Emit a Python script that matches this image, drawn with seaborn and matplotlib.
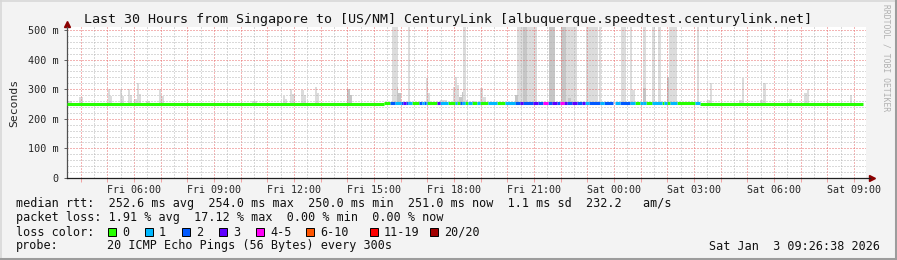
import numpy as np
import pandas as pd
import matplotlib
matplotlib.use("Agg")
import matplotlib.pyplot as plt
import seaborn as sns
from matplotlib.patches import Rectangle
from matplotlib.lines import Line2D
from matplotlib.ticker import FixedLocator, FixedFormatter

# ---------------- data ----------------
title = "Last 30 Hours from Singapore to [US/NM] CenturyLink [albuquerque.speedtest.centurylink.net]"
t_start = 3.49    # hours since Fri 00:00
t_end = 33.34

loss_labels = ["0", "1", "2", "3", "4-5", "6-10", "11-19", "20/20"]
loss_colors = ["#26ff00", "#00b8ff", "#0059ff", "#5e00ff", "#ff00f7", "#ff5500", "#ff0000", "#a10000"]

# median rtt segments (start hour, loss bucket index, median ms); -1 = no data
seg_start = [3.49, 15.375, 15.6, 15.79, 16.0, 16.1, 16.2, 16.29, 16.41, 16.69, 16.79, 16.875,
             16.94, 17.0, 17.35, 17.475, 17.79, 18.04, 18.12, 18.225, 18.29, 18.41, 18.54, 18.66,
             18.85, 18.975, 19.29, 19.61, 19.91, 20.29, 20.475, 20.6, 20.97, 21.16, 21.35, 21.54,
             21.66, 21.85, 21.975, 22.125, 22.25, 22.41, 22.6, 22.79, 22.91, 23.07, 23.475, 23.625,
             23.97, 24.04, 24.225, 24.6, 24.79, 24.975, 25.1, 25.22, 25.41, 25.79, 25.875, 25.975,
             26.1, 26.35, 27.04, 27.225]
seg_loss = [0, 0, 2, 1, 2, 3, 2, 1, 0, 2, 1, 2,
            1, 0, 3, 1, 0, 1, 0, 2, 1, 0, 1, 0,
            1, 0, 1, 0, 1, 2, 3, 2, 3, 2, 4, 2,
            3, 2, 4, 3, 2, 3, 2, 3, 1, 2, 1, 2,
            -1, 1, 2, 1, 0, 1, 1, 0, 1, 0, 1, 0,
            1, 0, 1, 0]
seg_median = [251, 254, 254, 254, 254, 254, 254, 254, 254, 254, 254, 254,
              254, 254, 254, 254, 254, 254, 254, 254, 254, 254, 254, 254,
              254, 254, 254, 254, 254, 255, 255, 255, 255, 255, 255, 255,
              255, 255, 255, 255, 255, 255, 255, 255, 255, 255, 255, 255,
              255, 254, 254, 254, 254, 254, 254, 254, 254, 254, 254, 254,
              254, 254, 254, 251]

# smoke (ping spread) columns: start hour, end hour, max rtt (ms), shade index
smoke_start = [3.49, 3.94, 5.025, 5.1, 5.475, 5.55, 5.775, 5.85, 6.0, 6.11, 6.19, 6.45, 6.94, 7.01,
               10.425, 11.59, 11.66, 11.85, 11.925, 12.26, 12.375, 12.79, 12.86, 13.99, 14.1,
               15.66, 15.85, 15.91, 16.26, 16.95, 17.01, 17.475, 17.95, 18.04, 18.11, 18.19, 18.29,
               18.34, 18.45, 18.66, 18.975, 19.1, 20.29, 20.35, 20.58, 21.56, 22.0, 22.2, 22.29,
               22.95, 23.45, 24.26, 24.59, 24.64, 25.1, 25.1, 25.41, 25.66, 25.99, 26.05, 27.1,
               27.5, 27.6, 28.7, 28.8, 29.475, 29.59, 30.56, 31.125, 31.225, 32.85]
smoke_end = [3.675, 4.09, 5.1, 5.175, 5.55, 5.625, 5.85, 5.925, 6.11, 6.19, 6.26, 6.6, 7.01, 7.125,
             10.61, 11.66, 11.74, 11.925, 12.04, 12.375, 12.45, 12.86, 12.94, 14.1, 14.175,
             15.91, 15.91, 16.0, 16.35, 17.01, 17.1, 17.725, 18.04, 18.11, 18.19, 18.29, 18.34,
             18.45, 18.525, 18.79, 19.1, 19.2, 20.39, 21.1, 20.73, 21.79, 22.2, 22.6, 22.39,
             23.39, 23.51, 24.44, 24.69, 24.79, 25.19, 25.2, 25.54, 25.76, 26.05, 26.35, 27.19,
             27.6, 27.66, 28.8, 28.875, 29.59, 29.69, 30.66, 31.225, 31.32, 32.94]
smoke_top = [261, 272, 300, 277, 300, 277, 300, 280, 266, 320, 284, 261, 300, 277,
             261, 277, 268, 300, 284, 297, 280, 308, 288, 300, 280,
             520, 308, 288, 520, 337, 287, 263, 308, 342, 314, 275, 291,
             520, 262, 260, 303, 275, 280, 520, 520, 520, 520, 520, 270,
             520, 520, 520, 520, 296, 520, 305, 520, 520, 342, 520, 520,
             263, 322, 263, 339, 263, 322, 267, 286, 300, 280]
smoke_shade = [0, 0, 0, 0, 0, 0, 0, 0, 0, 0, 0, 0, 0, 0,
               0, 0, 0, 0, 0, 0, 0, 0, 0, 1, 1,
               0, 1, 1, 0, 0, 0, 0, 0, 0, 0, 1, 1,
               0, 0, 0, 0, 0, 1, 0, 1, 1, 1, 0, 1,
               0, 0, 0, 0, 0, 0, 1, 0, 0, 1, 0, 0,
               0, 0, 0, 0, 0, 0, 0, 0, 0, 0]
shade_colors = ["#dcdcdc", "#c6c6c6"]

xtick_hours = [6, 9, 12, 15, 18, 21, 24, 27, 30, 33]
xtick_labels = ["Fri 06:00", "Fri 09:00", "Fri 12:00", "Fri 15:00", "Fri 18:00",
                "Fri 21:00", "Sat 00:00", "Sat 03:00", "Sat 06:00", "Sat 09:00"]
ytick_values = [0, 100, 200, 300, 400, 500]
ytick_labels = ["0", "100 m", "200 m", "300 m", "400 m", "500 m"]

legend_rtt = "median rtt:  252.6 ms avg  254.0 ms max  250.0 ms min  251.0 ms now  1.1 ms sd  232.2   am/s"
legend_loss = "packet loss: 1.91 % avg  17.12 % max  0.00 % min  0.00 % now"
probe_text = "20 ICMP Echo Pings (56 Bytes) every 300s"
stamp_text = "Sat Jan  3 09:26:38 2026"

# ---------------- style ----------------
sns.set_style("white")
MONO = ["DejaVu Sans Mono"]
plt.rcParams["font.family"] = MONO
BG = "#f3f3f3"

W, H = 897, 260
fig = plt.figure(figsize=(W / 100, H / 100), dpi=100, facecolor=BG)

def fx(px):
    return px / W

def fy(py):
    return 1 - py / H

ax = fig.add_axes([fx(67), fy(178), fx(866) - fx(67), fy(27) - fy(178)])
ax.set_facecolor("white")
ax.set_xlim(t_start, t_start + 799 * 0.0375)
ax.set_ylim(0, 510)

# smoke columns: light shade first, darker on top
smoke = pd.DataFrame({"start": smoke_start, "end": smoke_end, "top": smoke_top, "shade": smoke_shade})
for s in [0, 1]:
    d = smoke[smoke["shade"] == s]
    ax.bar(d["start"], d["top"] - 246, width=d["end"] - d["start"], bottom=246, align="edge",
           color=shade_colors[s], linewidth=0, zorder=1)

# median line coloured by loss
seg_end = seg_start[1:] + [t_end]
rows = []
for i, (a, b, l, m) in enumerate(zip(seg_start, seg_end, seg_loss, seg_median)):
    if l < 0:
        continue
    rows.append({"t": a, "rtt": m, "loss": loss_labels[l], "seg": i})
    rows.append({"t": b, "rtt": m, "loss": loss_labels[l], "seg": i})
med = pd.DataFrame(rows)
sns.lineplot(data=med, x="t", y="rtt", hue="loss", units="seg", estimator=None, sort=False,
             palette=dict(zip(loss_labels, loss_colors)), legend=False, linewidth=2.2,
             solid_capstyle="butt", ax=ax, zorder=3)
ax.set_xlabel("")
ax.set_ylabel("Seconds", fontsize=8.2, labelpad=6)

# ticks & grid
hours = list(range(4, 34))
ax.xaxis.set_major_locator(FixedLocator(hours))
ax.xaxis.set_major_formatter(FixedFormatter([xtick_labels[xtick_hours.index(h)] if h in xtick_hours else "" for h in hours]))
ax.xaxis.set_minor_locator(FixedLocator([h + 0.5 for h in range(3, 34)]))
ax.yaxis.set_major_locator(FixedLocator(ytick_values))
ax.yaxis.set_major_formatter(FixedFormatter(ytick_labels))
ax.yaxis.set_minor_locator(FixedLocator([v for v in range(20, 510, 20) if v % 100]))
ax.set_axisbelow("line")
ax.grid(which="major", color="#e86a6a", linestyle=(0, (1, 2)), linewidth=0.72)
ax.grid(which="minor", color="#b4b4b4", linestyle=(0, (1, 2)), linewidth=0.72)
ax.tick_params(axis="x", which="major", length=3, width=0.7, color="#f0a0a0",
               labelsize=7.2, pad=2, direction="out", bottom=True)
ax.tick_params(axis="x", which="minor", length=0)
ax.tick_params(axis="y", which="major", length=2, width=0.7, color="#606060",
               labelsize=7.3, pad=4, direction="out", left=True)
ax.tick_params(axis="y", which="minor", length=0)

for sp in ["top", "right"]:
    ax.spines[sp].set_visible(False)
ax.spines["left"].set_color("#505050")
ax.spines["bottom"].set_color("#202020")
ax.spines["left"].set_linewidth(0.9)
ax.spines["bottom"].set_linewidth(0.9)
ax.spines["bottom"].set_bounds(t_start, t_start + 803 * 0.0375)
ax.plot([0], [1.02], marker="^", markersize=5, color="#8b0000", transform=ax.transAxes, clip_on=False)
ax.plot([1.008], [0], marker=">", markersize=5, color="#8b0000", transform=ax.transAxes, clip_on=False)
ax.yaxis.label.set_position((0, (178 - 103) / 151))

# ---------------- texts ----------------
fig.text(fx(448), fy(19), title, ha="center", va="center", fontsize=9.65, color="#111111")
fig.text(fx(886), fy(58), "RRDTOOL / TOBI OETIKER", rotation=270, ha="center", va="center",
         fontsize=5.8, color="#b0b0b0")

LEG = 8.5
fig.text(fx(16), fy(204), legend_rtt, ha="left", va="center", fontsize=LEG, color="#111111")
fig.text(fx(16), fy(218), legend_loss, ha="left", va="center", fontsize=LEG, color="#111111")
fig.text(fx(16), fy(232), "loss color:", ha="left", va="center", fontsize=LEG, color="#111111")
fig.text(fx(16), fy(246), "probe:", ha="left", va="center", fontsize=LEG, color="#111111")
fig.text(fx(107), fy(246), probe_text, ha="left", va="center", fontsize=LEG, color="#111111")
fig.text(fx(880), fy(246), stamp_text, ha="right", va="center", fontsize=LEG, color="#111111")

swatch_x = [108, 145, 182, 219, 256, 306, 370, 430]
for sx, lab, col in zip(swatch_x, loss_labels, loss_colors):
    fig.add_artist(Rectangle((fx(sx), fy(236)), 8 / W, 8 / H, transform=fig.transFigure,
                             facecolor=col, edgecolor="black", linewidth=0.7))
    fig.text(fx(sx + 14), fy(232), lab, ha="left", va="center", fontsize=LEG, color="#111111")

# frame around image
fig.add_artist(Line2D([0, 1], [fy(0.5), fy(0.5)], transform=fig.transFigure, color="#d8d8d8", linewidth=1.2))
fig.add_artist(Line2D([fx(0.5), fx(0.5)], [0, 1], transform=fig.transFigure, color="#d8d8d8", linewidth=1.2))
fig.add_artist(Line2D([0, 1], [fy(258.5), fy(258.5)], transform=fig.transFigure, color="#9c9c9c", linewidth=2.2))
fig.add_artist(Line2D([fx(895.5), fx(895.5)], [0, 1], transform=fig.transFigure, color="#9c9c9c", linewidth=2.2))

fig.savefig("out.png", dpi=100, facecolor=BG)
